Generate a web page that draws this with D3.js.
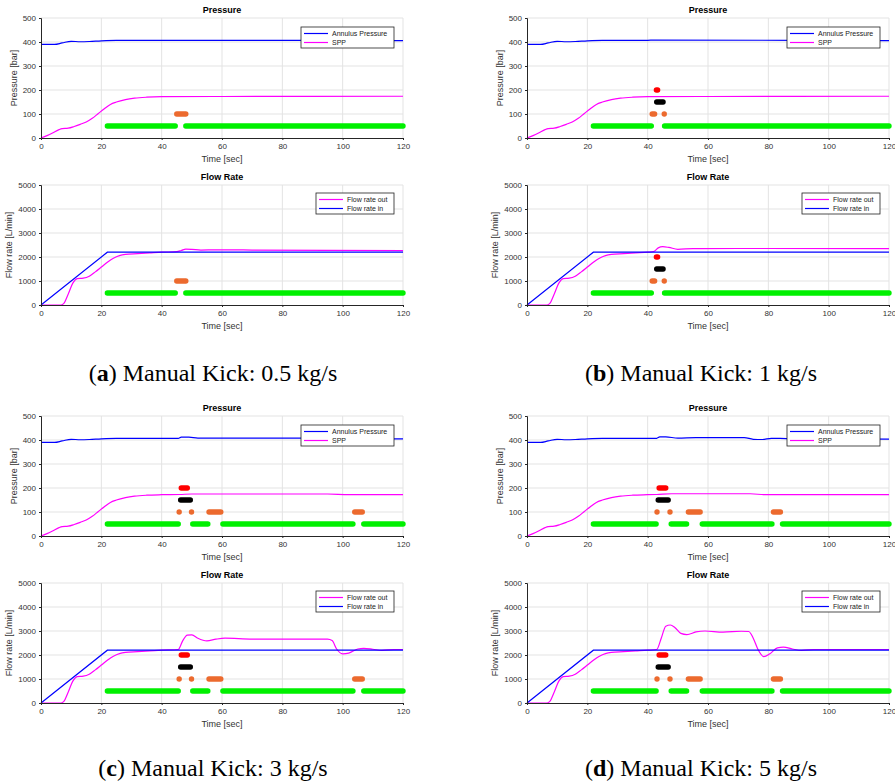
<!DOCTYPE html>
<html lang="en">

<head>
    <meta charset="UTF-8">
    <title>Manual Kick - Pressure and Flow Rate</title>
    <script src="https://d3js.org/d3.v7.min.js"></script>
    <style>
        body {
            margin: 0;
            padding: 0;
            background-color: #fff;
        }

        #fig {
            display: block;
        }

        .tick text {
            font-family: "Liberation Sans", Arial, sans-serif;
            font-size: 8px;
            fill: #333;
        }

        .axis-label {
            font-family: "Liberation Sans", Arial, sans-serif;
            font-size: 9px;
            fill: #333;
            text-anchor: middle;
        }

        .plot-title {
            font-family: "Liberation Sans", Arial, sans-serif;
            font-size: 9px;
            font-weight: bold;
            fill: #000;
            text-anchor: middle;
        }

        .legend-text {
            font-family: "Liberation Sans", Arial, sans-serif;
            font-size: 7px;
            fill: #222;
        }

        .caption {
            font-family: "Liberation Serif", "Times New Roman", serif;
            font-size: 24px;
            fill: #000;
            text-anchor: middle;
        }
    </style>
</head>

<body>
    <svg id="fig" width="895" height="784"></svg>
    <script>
        // axis ticks
        const timeTicks = [0, 20, 40, 60, 80, 100, 120];
        const pressureTicks = [0, 100, 200, 300, 400, 500];
        const flowTicks = [0, 1000, 2000, 3000, 4000, 5000];

        // alarm rows: green, orange, black, red
        const pressureLevels = [50, 100, 150, 200];
        const flowLevels = [500, 1000, 1500, 2000];
        const alarmColors = ["#00f000", "#ec6a2e", "#000000", "#ff0000"];

        const captions = ["Manual Kick: 0.5 kg/s", "Manual Kick: 1 kg/s", "Manual Kick: 3 kg/s", "Manual Kick: 5 kg/s"];
        const captionLetters = ["a", "b", "c", "d"];

        // flow rate in (same for all cases)
        const flowIn = [[0, 0], [22, 2200], [120, 2200]];

        // shared start of the curves (before the kick)
        const annulusStart = [[0, 390], [4.5, 390], [7, 396], [10, 403], [13, 401], [16, 402], [20, 405], [25, 407], [40, 407]];
        const sppStart = [[0, 0], [2, 10], [4, 22], [6, 35], [7, 39], [9, 41], [11, 48], [13, 57], [15, 67], [17, 82], [19, 102],
            [21, 122], [23, 140], [25, 150], [28, 160], [31, 166], [35, 170], [40, 172]];
        const flowOutStart = [[0, 0], [6.5, 0], [7.5, 60], [9, 450], [10.5, 900], [12, 1100], [14, 1120], [16, 1200], [18, 1380],
            [20, 1580], [22, 1780], [24, 1950], [26, 2060], [28, 2110], [32, 2140], [36, 2170], [40, 2200]];

        // case a: 0.5 kg/s
        const annulusA = [[60, 407], [120, 406]];
        const sppA = [[60, 173], [120, 174]];
        const flowOutA = [[45, 2220], [46.5, 2270], [48, 2330], [50, 2320], [53, 2290], [58, 2300], [70, 2290], [120, 2265]];
        const alarmsA = [
            [[22, 44.5], [48, 120]],
            [[45, 48]],
            [],
            []
        ];

        // case b: 1 kg/s
        const annulusB = [[42, 408], [120, 406]];
        const sppB = [[60, 173], [120, 174]];
        const flowOutB = [[42, 2230], [43.5, 2380], [45, 2430], [47, 2400], [50, 2320], [55, 2350], [70, 2355], [120, 2345]];
        const alarmsB = [
            [[22, 41.2], [45.6, 120]],
            [[41.5, 42.3], [45.5, 45.5]],
            [[43, 45.1]],
            [[42.9, 43.3]]
        ];

        // case c: 3 kg/s
        const annulusC = [[45.5, 407], [46.5, 412], [49, 412], [52, 408], [60, 408], [95, 408], [100, 405], [120, 405]];
        const sppC = [[46, 173], [50, 175], [95, 175], [102, 172], [120, 172]];
        const flowOutC = [[45.5, 2230], [47, 2600], [48.5, 2830], [50, 2840], [52, 2700], [55, 2590], [58, 2660], [61, 2700],
            [70, 2660], [95, 2660], [96.5, 2600], [98, 2250], [100, 2050], [102, 2080], [105, 2250], [107, 2280],
            [110, 2240], [113, 2190], [117, 2230], [120, 2230]];
        const alarmsC = [
            [[22, 45.5], [50.3, 55.3], [60.3, 103.4], [107, 120]],
            [[45.8, 45.8], [49.9, 49.9], [55.7, 59.6], [104, 106.5]],
            [[46.3, 49.5]],
            [[46.5, 48.5]]
        ];

        // case d: 5 kg/s
        const annulusD = [[43, 407], [44, 413], [46, 413], [50, 408], [56, 410], [72, 410], [75, 403], [78, 402], [81, 407],
            [86, 406], [120, 404]];
        const sppD = [[43, 173], [48, 176], [74, 176], [79, 172], [120, 172]];
        const flowOutD = [[43, 2230], [44.5, 2700], [46, 3200], [47.5, 3250], [49, 3150], [51, 2900], [53, 2850], [56, 2960],
            [59, 3000], [65, 2950], [71, 2990], [73.5, 2980], [75, 2700], [76.5, 2250], [78.5, 1930], [80.5, 2050],
            [83, 2300], [85, 2330], [88, 2250], [91, 2190], [95, 2230], [120, 2230]];
        const alarmsD = [
            [[22, 42.8], [47.8, 52.9], [58.1, 81.2], [84.7, 120]],
            [[43.1, 43.1], [47.4, 47.4], [53.5, 57.4], [81.7, 84]],
            [[43.5, 46.8]],
            [[43.8, 46]]
        ];

        const cases = [
            { annulus: annulusA, spp: sppA, flowOut: flowOutA, alarms: alarmsA },
            { annulus: annulusB, spp: sppB, flowOut: flowOutB, alarms: alarmsB },
            { annulus: annulusC, spp: sppC, flowOut: flowOutC, alarms: alarmsC },
            { annulus: annulusD, spp: sppD, flowOut: flowOutD, alarms: alarmsD }
        ];

        const svg = d3.select("#fig");
        const colX = [41, 527];
        const rowY = [0, 398];
        const plotW = 362;
        const plotH = 120;
        const dotR = 2.7;

        // draws one axes box with grid, ticks, lines, alarm dots, legend
        function drawAxes(g, opts) {
            const x = d3.scaleLinear().domain([0, 120]).range([0, plotW]);
            const y = d3.scaleLinear().domain([0, opts.yMax]).range([plotH, 0]);

            // grid
            g.append("g").selectAll("line").data(timeTicks.slice(1)).join("line")
                .attr("x1", d => x(d)).attr("x2", d => x(d))
                .attr("y1", 0).attr("y2", plotH)
                .attr("stroke", "#e3e3e3").attr("stroke-width", 1);
            g.append("g").selectAll("line").data(opts.yTicks.slice(1)).join("line")
                .attr("x1", 0).attr("x2", plotW)
                .attr("y1", d => y(d)).attr("y2", d => y(d))
                .attr("stroke", "#e3e3e3").attr("stroke-width", 1);

            // alarm dots drawn as rounded bars
            opts.alarms.forEach((rows, i) => {
                g.append("g").selectAll("rect").data(rows).join("rect")
                    .attr("x", d => x(d[0]) - dotR)
                    .attr("y", y(opts.levels[i]) - dotR)
                    .attr("width", d => x(d[1]) - x(d[0]) + 2 * dotR)
                    .attr("height", 2 * dotR)
                    .attr("rx", dotR)
                    .attr("fill", alarmColors[i]);
            });

            opts.series.forEach(s => {
                const line = d3.line()
                    .x(d => x(d[0]))
                    .y(d => y(d[1]))
                    .curve(s.smooth ? d3.curveMonotoneX : d3.curveLinear);
                g.append("path")
                    .datum(s.data)
                    .attr("d", line)
                    .attr("fill", "none")
                    .attr("stroke", s.color)
                    .attr("stroke-width", 1.2);
            });

            // axes
            const xAxis = g.append("g")
                .attr("transform", `translate(0,${plotH})`)
                .call(d3.axisBottom(x).tickValues(timeTicks).tickSize(2).tickPadding(3));
            const yAxis = g.append("g")
                .call(d3.axisLeft(y).tickValues(opts.yTicks).tickFormat(d3.format("d")).tickSize(2).tickPadding(3));
            [xAxis, yAxis].forEach(a => {
                a.select(".domain").attr("stroke", "#262626");
                a.selectAll(".tick line").attr("stroke", "#262626");
            });

            // title and labels
            g.append("text").attr("class", "plot-title")
                .attr("x", plotW / 2).attr("y", -5)
                .text(opts.title);
            g.append("text").attr("class", "axis-label")
                .attr("x", plotW / 2).attr("y", plotH + 24)
                .text("Time [sec]");
            g.append("text").attr("class", "axis-label")
                .attr("transform", `translate(${-opts.yLabelOffset},${plotH / 2}) rotate(-90)`)
                .text(opts.yLabel);

            // legend
            const lg = g.append("g").attr("transform", `translate(${opts.legendX},${opts.legendY})`);
            lg.append("rect")
                .attr("width", opts.legendW).attr("height", 21)
                .attr("fill", "#fff").attr("stroke", "#222").attr("stroke-width", 0.8);
            opts.series.forEach((s, i) => {
                const ly = 6.5 + i * 9;
                lg.append("line")
                    .attr("x1", 3).attr("x2", 27).attr("y1", ly).attr("y2", ly)
                    .attr("stroke", s.color).attr("stroke-width", 1.2);
                lg.append("text").attr("class", "legend-text")
                    .attr("x", 31).attr("y", ly + 2.5)
                    .text(s.name);
            });
        }

        cases.forEach((c, k) => {
            const cx = colX[k % 2];
            const oy = rowY[Math.floor(k / 2)];

            const gp = svg.append("g").attr("transform", `translate(${cx},${oy + 18})`);
            drawAxes(gp, {
                title: "Pressure",
                yMax: 500,
                yTicks: pressureTicks,
                yLabel: "Pressure [bar]",
                yLabelOffset: 24,
                levels: pressureLevels,
                alarms: c.alarms,
                series: [
                    { name: "Annulus Pressure", color: "#0000ff", smooth: true, data: annulusStart.concat(c.annulus) },
                    { name: "SPP", color: "#ff00ff", smooth: true, data: sppStart.concat(c.spp) }
                ],
                legendX: 260, legendY: 9, legendW: 93
            });

            const gf = svg.append("g").attr("transform", `translate(${cx},${oy + 185})`);
            drawAxes(gf, {
                title: "Flow Rate",
                yMax: 5000,
                yTicks: flowTicks,
                yLabel: "Flow rate [L/min]",
                yLabelOffset: 29,
                levels: flowLevels,
                alarms: c.alarms,
                series: [
                    { name: "Flow rate out", color: "#ff00ff", smooth: true, data: flowOutStart.concat(c.flowOut) },
                    { name: "Flow rate in", color: "#0000ff", smooth: false, data: flowIn }
                ],
                legendX: 275, legendY: 8, legendW: 78
            });

            // caption under each subfigure
            const cap = svg.append("text").attr("class", "caption")
                .attr("x", k % 2 === 0 ? 213 : 701)
                .attr("y", k < 2 ? 381 : 776);
            cap.append("tspan").text("(");
            cap.append("tspan").attr("font-weight", "bold").text(captionLetters[k]);
            cap.append("tspan").text(") " + captions[k]);
        });
    </script>
</body>

</html>
